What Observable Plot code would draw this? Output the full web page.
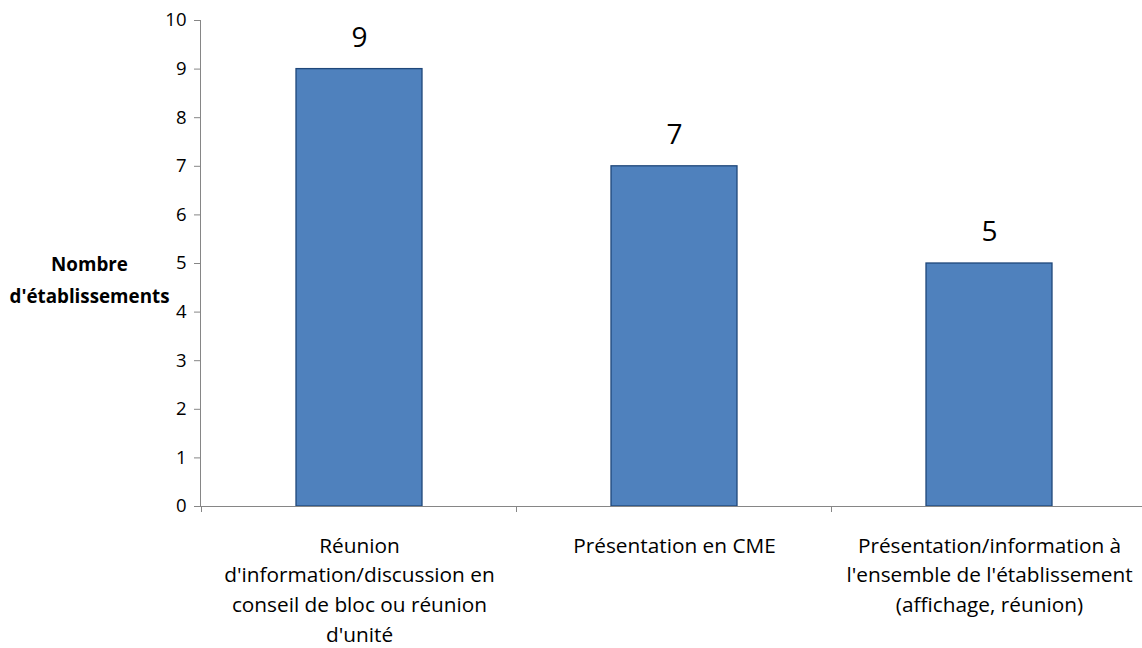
<!DOCTYPE html>
<html>
<head>
<meta charset="utf-8">
<script src="https://cdn.jsdelivr.net/npm/d3@7"></script>
<script src="https://cdn.jsdelivr.net/npm/@observablehq/plot@0.6"></script>
<style>
  html, body { margin: 0; padding: 0; background: #fff; }
  #chart svg { display: block; font-family: "Open Sans", sans-serif; }
</style>
</head>
<body>
<div id="chart"></div>
<script>
// Actions de communication : nombre d'établissements par type
const categories = [
  "Réunion\nd'information/discussion en\nconseil de bloc ou réunion\nd'unité",
  "Présentation en CME",
  "Présentation/information à\nl'ensemble de l'établissement\n(affichage, réunion)"
];
const counts = [9, 7, 5];
const yTicks = [0, 1, 2, 3, 4, 5, 6, 7, 8, 9, 10];
const yTitle = "Nombre\nd'établissements";

const data = categories.map((c, i) => ({category: c, count: counts[i]}));

const axisGray = "#868686";
const barFill = "#4F81BD";
const barStroke = "#1F477A";

const plot = Plot.plot({
  width: 1142,
  height: 648,
  marginTop: 20,
  marginLeft: 200,
  marginRight: 0,
  marginBottom: 142,
  style: {fontFamily: "'Open Sans', sans-serif", background: "#fff"},
  x: {domain: categories, range: [200, 1147], paddingInner: 0.6, paddingOuter: 0.3, axis: null},
  y: {domain: [0, 10], axis: null},
  marks: [
    Plot.barY(data, {x: "category", y: "count", fill: barFill, stroke: barStroke, strokeWidth: 1.3}),
    Plot.ruleY([0], {stroke: axisGray, strokeWidth: 1}),
    Plot.frame({anchor: "left", stroke: axisGray, strokeWidth: 1}),
    Plot.axisY({
      ticks: yTicks, tickSize: 6, tickPadding: 8, stroke: axisGray,
      fontSize: 18.5, fill: "#000", label: null, tickFormat: d => String(d)
    }),
    Plot.axisX({
      tickSize: 0, tickPadding: 25, fontSize: 20.8, lineHeight: 1.43,
      fill: "#000", label: null
    }),
    Plot.text(data, {
      x: "category", y: "count", text: d => String(d.count),
      dy: -31, fontSize: 28, fill: "#000"
    }),
    Plot.text([yTitle], {
      frameAnchor: "left", textAnchor: "middle", dx: -111, dy: 13, text: d => d,
      fontSize: 18.8, fontWeight: "bold", fill: "#000", lineHeight: 1.7
    })
  ]
});

// Category boundary ticks below the baseline, placed with the plot's band scale
const xs = plot.scale("x");
const ys = plot.scale("y");
const base = ys.apply(0);
const bounds = categories.map(c => xs.apply(c) - (xs.step - xs.bandwidth) / 2);
bounds.push(bounds[bounds.length - 1] + xs.step);
d3.select(plot).append("g")
  .attr("stroke", axisGray)
  .selectAll("line")
  .data(bounds)
  .join("line")
  .attr("x1", d => d).attr("x2", d => d)
  .attr("y1", base).attr("y2", base + 6);

document.getElementById("chart").append(plot);
</script>
</body>
</html>
